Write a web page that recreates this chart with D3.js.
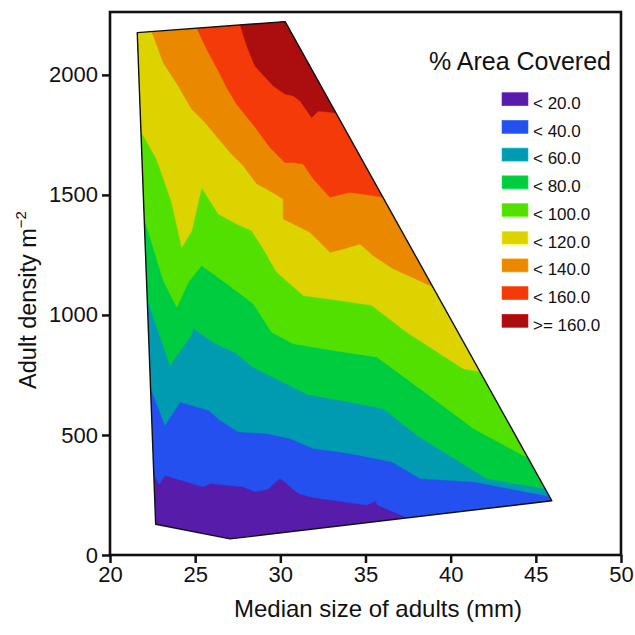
<!DOCTYPE html>
<html><head><meta charset="utf-8">
<script src="https://cdn.jsdelivr.net/npm/d3@7"></script>
<style>
body{margin:0;background:#fff}
text{font-family:"Liberation Sans",Arial,Helvetica,sans-serif;fill:#111}
</style>
</head><body>
<svg id="c" width="635" height="635"></svg>
<script>
// ---- data ----
const xTicks = [20, 25, 30, 35, 40, 45, 50];
const yTicks = [0, 500, 1000, 1500, 2000];
const thresholds = [20, 40, 60, 80, 100, 120, 140, 160];
const legendLabels = ["< 20.0", "< 40.0", "< 60.0", "< 80.0", "< 100.0", "< 120.0", "< 140.0", "< 160.0", ">= 160.0"];
const bandColors = ["#581cab", "#2350ef", "#009bb1", "#00cc40", "#52e000", "#ddd300", "#ea8800", "#f43a08", "#ac0e10"];

// outline of sampled region (median size mm, density m^-2)
const hull = [[21.6, 2176], [30.28, 2222], [45.94, 226], [27.05, 67], [22.68, 128]];

// contour boundaries (size, density), one per threshold
const line20 = [[22.41,353],[22.89,295],[23.23,331],[25.48,284],[25.87,298],[27.83,284],[28.51,263],[29.25,274],[29.98,320],[31.04,257],[31.84,241],[35.07,208],[35.59,225],[35.70,208],[37.42,156],[37.97,112]];
const line40 = [[22.17,735],[23.23,541],[24.11,637],[25.77,603],[26.46,561],[27.53,513],[29.20,506],[30.57,485],[31.94,444],[34.09,423],[36.54,388],[38.20,319],[41.33,305],[46.18,239]];
const line60 = [[21.94,1116],[23.52,790],[24.80,919],[24.86,947],[26.02,887],[27.39,842],[28.37,783],[31.60,669],[34.09,637],[36.05,610],[38.01,499],[42.11,319],[45.83,272]];
const line80 = [[21.70,1476],[23.13,1143],[23.92,1032],[24.60,1136],[25.38,1206],[26.46,1151],[28.41,1047],[29.49,928],[30.76,880],[33.11,852],[35.66,825],[38.20,693],[41.33,527],[44.78,395]];
const line100 = [[21.47,1809],[22.74,1649],[23.62,1469],[24.21,1282],[24.80,1351],[25.38,1531],[26.36,1421],[27.44,1379],[28.32,1351],[29.00,1275],[29.79,1178],[31.35,1081],[33.50,1060],[35.36,1040],[37.42,928],[40.74,776],[42.31,757]];
const line120 = [[22.15,2240],[23.13,2051],[24.01,1954],[24.80,1857],[25.58,1802],[27.05,1677],[27.83,1622],[28.61,1546],[29.20,1525],[30.17,1483],[30.17,1400],[30.57,1386],[31.74,1344],[32.92,1261],[33.70,1275],[34.68,1296],[35.46,1247],[36.63,1192],[38.79,1123],[39.37,1106]];
const line140 = [[24.80,2240],[25.68,2107],[26.36,2017],[26.85,1947],[27.44,1878],[28.61,1774],[29.39,1698],[30.27,1635],[30.76,1635],[31.35,1629],[31.94,1566],[32.92,1490],[33.70,1505],[34.09,1511],[35.85,1493],[36.56,1484]];
const line160 = [[27.51,2240],[28.03,2121],[28.51,2037],[29.59,1954],[30.27,1920],[30.76,1913],[31.15,1892],[31.84,1823],[32.23,1850],[33.11,1843],[33.50,1838]];
const contourLines = [line20, line40, line60, line80, line100, line120, line140, line160];

// ---- drawing ----
const svg = d3.select("#c");
const x = d3.scaleLinear().domain([20, 50]).range([110, 621]);
const y = d3.scaleLinear().domain([0, 2262]).range([555, 12]);
const lineGen = d3.line().x(d => x(d[0])).y(d => y(d[1]));

svg.append("defs").append("clipPath").attr("id", "hullclip")
  .append("path").attr("d", lineGen(hull) + "Z");

const g = svg.append("g").attr("clip-path", "url(#hullclip)");
g.append("path").attr("d", lineGen(hull) + "Z").attr("fill", bandColors[0]);
contourLines.forEach((ln, i) => {
  const first = ln[0], last = ln[ln.length - 1];
  const poly = ln.concat([[60, last[1]], [60, 3000], [10, 3000], [10, first[1]]]);
  g.append("path").attr("d", lineGen(poly) + "Z").attr("fill", bandColors[i + 1])
    .attr("stroke", bandColors[i + 1]).attr("stroke-width", 0.5);
});

svg.append("path").attr("d", lineGen(hull) + "Z")
  .attr("fill", "none").attr("stroke", "#111").attr("stroke-width", 1.4).attr("stroke-linejoin", "round");

// axes
const xAxis = svg.append("g").attr("transform", "translate(0,555)")
  .call(d3.axisBottom(x).tickValues(xTicks).tickSize(8).tickPadding(3).tickFormat(d3.format("d")));
const yAxis = svg.append("g").attr("transform", "translate(110,0)")
  .call(d3.axisLeft(y).tickValues(yTicks).tickSize(8).tickPadding(4).tickFormat(d3.format("d")));
[xAxis, yAxis].forEach(a => {
  a.select(".domain").remove();
  a.selectAll(".tick line").attr("stroke", "#111").attr("stroke-width", 2.5);
  a.selectAll(".tick text").attr("font-size", 22).attr("fill", "#111")
    .style("font-family", "'Liberation Sans',Arial,sans-serif");
});

// frame
svg.append("rect").attr("x", x(20)).attr("y", y(2262)).attr("width", x(50) - x(20)).attr("height", y(0) - y(2262))
  .attr("fill", "none").attr("stroke", "#111").attr("stroke-width", 2.6);

// axis titles
svg.append("text").attr("x", 378).attr("y", 617).attr("text-anchor", "middle")
  .attr("font-size", 24).text("Median size of adults (mm)");
const yt = svg.append("text").attr("transform", "translate(36,300) rotate(-90)").attr("text-anchor", "middle")
  .attr("font-size", 23.5);
yt.append("tspan").text("Adult density m");
yt.append("tspan").attr("dy", -10).attr("font-size", 15).text("\u22122");

// legend
svg.append("text").attr("x", 611).attr("y", 70).attr("text-anchor", "end")
  .attr("font-size", 25).text("% Area Covered");
const lg = svg.append("g");
legendLabels.forEach((lab, i) => {
  const ty = 92.7 + i * 27.7;
  lg.append("rect").attr("x", 502).attr("y", ty).attr("width", 26).attr("height", 13)
    .attr("fill", bandColors[i]).attr("stroke", d3.color(bandColors[i]).brighter(0.6)).attr("stroke-width", 0.6);
  lg.append("text").attr("x", 533).attr("y", ty + 16.3).attr("font-size", 17).text(lab);
});
</script>
</body></html>
